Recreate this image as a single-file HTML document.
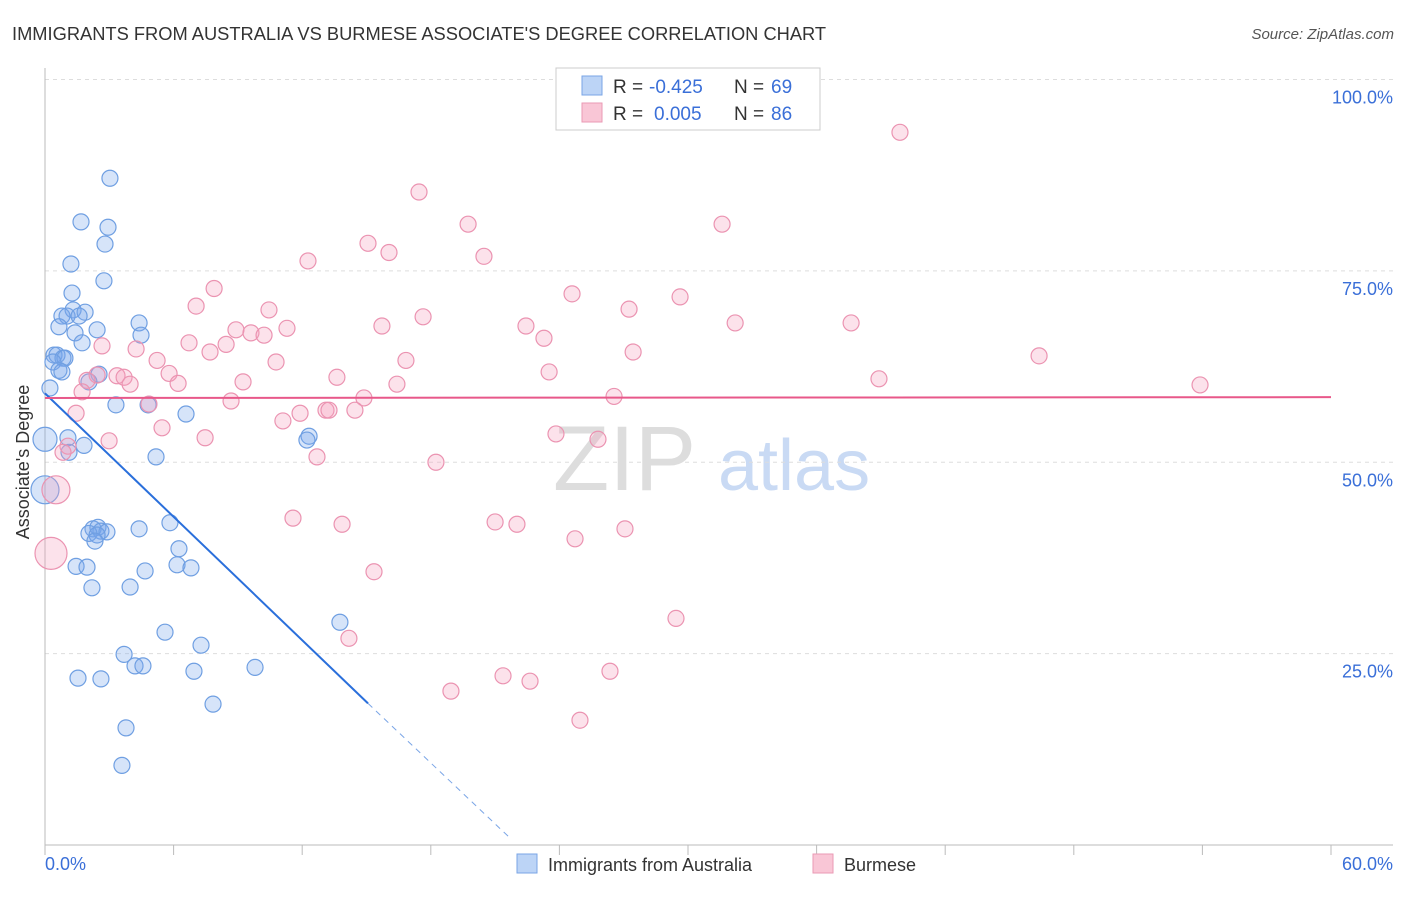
<!DOCTYPE html>
<html><head><meta charset="utf-8"><style>
body{margin:0;background:#fff;font-family:"Liberation Sans",sans-serif;}
svg text{font-family:"Liberation Sans",sans-serif;}
</style></head><body>
<svg width="1406" height="892" xmlns="http://www.w3.org/2000/svg">
<text x="12" y="40" font-size="18.3" fill="#333">IMMIGRANTS FROM AUSTRALIA VS BURMESE ASSOCIATE'S DEGREE CORRELATION CHART</text>
<text x="1394" y="39" font-size="15" fill="#555" font-style="italic" text-anchor="end">Source: ZipAtlas.com</text>
<g>
<text x="553" y="490" font-size="92" fill="#ddd" font-family="Liberation Serif">ZIP</text>
<text x="718" y="490" font-size="72" fill="#c9daf4">atlas</text>
</g>
<g id="grid"></g>
<g id="axes"></g>
<g id="marks"></g>
<g id="trends"></g>
<text x="22" y="455" font-size="18" fill="#333" text-anchor="middle" transform="rotate(-90 29 455)">Associate's Degree</text>
<g>
<rect x="556" y="68" width="264" height="62" fill="#fff" stroke="#ccc"/>
<rect x="582" y="76" width="20" height="19" fill="#bcd4f6" stroke="#7aa5e6"/>
<rect x="582" y="103" width="20" height="19" fill="#f9c6d6" stroke="#ea9ab4"/>
<text x="613" y="93" font-size="19" fill="#333">R =</text>
<text x="649" y="93" font-size="19" fill="#3a6fd8">-0.425</text>
<text x="734" y="93" font-size="19" fill="#333">N =</text>
<text x="771" y="93" font-size="19" fill="#3a6fd8">69</text>
<text x="613" y="120" font-size="19" fill="#333">R =</text>
<text x="654" y="120" font-size="19" fill="#3a6fd8">0.005</text>
<text x="734" y="120" font-size="19" fill="#333">N =</text>
<text x="771" y="120" font-size="19" fill="#3a6fd8">86</text>
</g>
<g>
<rect x="517" y="854" width="20" height="19" fill="#bcd4f6" stroke="#7aa5e6"/>
<text x="548" y="871" font-size="18" fill="#333">Immigrants from Australia</text>
<rect x="813" y="854" width="20" height="19" fill="#f9c6d6" stroke="#ea9ab4"/>
<text x="844" y="871" font-size="18" fill="#333">Burmese</text>
</g>
</svg>
<script>
const blueX=[3.03,1.68,2.94,2.80,1.21,2.75,1.26,1.31,1.87,0.79,1.03,1.59,0.65,2.43,1.40,4.39,4.48,1.73,0.42,0.56,0.84,0.93,0.37,0.65,0.79,2.52,2.05,0.23,3.31,4.81,6.58,0.0,1.07,1.82,1.12,12.32,12.22,5.18,0.0,4.39,5.83,2.24,2.47,2.61,2.05,2.89,2.43,2.33,6.25,1.45,1.96,4.67,6.16,6.81,2.19,3.97,13.76,5.60,7.28,3.69,4.20,4.57,6.95,9.80,1.54,2.61,7.84,3.78,3.59];
const blueY=[87.1,81.4,80.7,78.5,75.9,73.7,72.1,69.9,69.6,69.1,69.1,69.1,67.7,67.3,66.9,68.2,66.6,65.6,64.0,64.0,63.6,63.6,63.1,62.0,61.8,61.5,60.5,59.7,57.5,57.5,56.3,53.0,53.2,52.2,51.3,53.4,52.9,50.7,46.4,41.3,42.1,41.3,41.5,41.0,40.7,40.9,40.5,39.7,38.7,36.4,36.3,35.8,36.6,36.2,33.6,33.7,29.1,27.8,26.1,24.9,23.4,23.4,22.7,23.2,21.8,21.7,18.4,15.3,10.4];
const blueR=[8,8,8,8,8,8,8,8,8,8,8,8,8,8,8,8,8,8,8,8,8,8,8,8,8,8,8,8,8,8,8,12,8,8,8,8,8,8,14,8,8,8,8,8,8,8,8,8,8,8,8,8,8,8,8,8,8,8,8,8,8,8,8,8,8,8,8,8,8];
const pinkX=[39.89,17.45,19.74,31.59,15.07,16.05,20.48,12.27,7.89,24.59,29.63,7.05,10.45,27.25,17.64,11.29,32.20,37.61,15.72,22.44,8.91,9.61,10.22,23.28,6.72,8.45,2.66,4.25,7.70,27.44,46.38,16.84,5.23,10.78,5.79,2.43,3.36,3.69,3.97,9.24,13.62,6.21,1.96,23.52,38.91,53.89,16.42,1.73,26.55,4.85,8.68,14.88,1.45,11.90,13.11,13.25,14.46,11.10,5.46,23.84,25.80,2.99,7.47,1.07,0.84,12.69,18.24,0.51,11.57,21.00,22.02,13.86,24.73,27.06,15.35,0.28,29.44,14.18,21.37,22.63,18.94,26.36,24.96];
const pinkY=[93.1,85.3,81.1,81.1,78.6,77.4,76.9,76.3,72.7,72.0,71.6,70.4,69.9,70.0,69.0,67.5,68.2,68.2,67.8,67.8,67.3,66.9,66.6,66.2,65.6,65.4,65.2,64.8,64.4,64.4,63.9,63.3,63.3,63.1,61.6,61.4,61.3,61.1,60.2,60.5,61.1,60.3,60.7,61.8,60.9,60.1,60.2,59.2,58.6,57.6,58.0,58.4,56.4,56.4,56.8,56.8,56.8,55.4,54.5,53.7,53.0,52.8,53.2,52.1,51.3,50.7,50.0,46.4,42.7,42.2,41.9,41.9,40.0,41.3,35.7,38.1,29.6,27.0,22.1,21.4,20.1,22.7,16.3];
const yTicks=[100,75,50,25];
const yTickLabels=["100.0%","75.0%","50.0%","25.0%"];
const xTicks=[0,6,12,18,24,30,36,42,48,54,60];
const xEndLabels=["0.0%","60.0%"];
const blueTrendEnds=[[0,59.0],[15.07,18.5],[21.7,0.9]];
const pinkTrendEnds=[[0,58.4],[60,58.5]];

const NS="http://www.w3.org/2000/svg";
const X0=45,X1=1331,Y0=845,Y100=79.5;
const sx=v=>X0+(v/60)*(X1-X0);
const sy=v=>Y0-(v/100)*(Y0-Y100);
function mk(tag,attrs,parent){const e=document.createElementNS(NS,tag);for(const k in attrs)e.setAttribute(k,attrs[k]);parent.appendChild(e);return e;}
const grid=document.getElementById('grid'),axes=document.getElementById('axes'),marks=document.getElementById('marks'),trends=document.getElementById('trends');
yTicks.forEach((t,i)=>{
 const l=mk('line',{x1:X0,x2:1393,y1:sy(t),y2:sy(t),stroke:'#ddd','stroke-dasharray':'4,4'},grid);
 
 
 const tx=mk('text',{x:1393,y:sy(t)+24,'font-size':18,fill:'#3a6fd8','text-anchor':'end'},axes);
 tx.textContent=yTickLabels[i];
 
 
});
const ya=mk('line',{x1:X0,x2:X0,y1:68,y2:Y0,stroke:'#bbb'},axes);


const xa=mk('line',{x1:X0,x2:1393,y1:Y0,y2:Y0,stroke:'#bbb'},axes);


xTicks.forEach(t=>{
 const l=mk('line',{x1:sx(t),x2:sx(t),y1:Y0,y2:Y0+10,stroke:'#bbb'},axes);
 
 
});
const xl0=mk('text',{x:45,y:870,'font-size':18,fill:'#3a6fd8'},axes);xl0.textContent=xEndLabels[0];


const xl1=mk('text',{x:1393,y:870,'font-size':18,fill:'#3a6fd8','text-anchor':'end'},axes);xl1.textContent=xEndLabels[1];


blueX.forEach((v,i)=>{
 const c=mk('circle',{cx:sx(v),cy:sy(blueY[i]),r:blueR[i],fill:'rgba(120,165,235,0.3)',stroke:'#6f9fe2','stroke-width':1.2},marks);
 
 
});
pinkX.forEach((v,i)=>{
 const big=(i===67)?14:(i===75?16:8);
 const c=mk('circle',{cx:sx(v),cy:sy(pinkY[i]),r:big,fill:'rgba(245,160,190,0.3)',stroke:'#eb93b1','stroke-width':1.2},marks);
 
 
});
const b=blueTrendEnds;
const bl=mk('line',{x1:sx(b[0][0]),y1:sy(b[0][1]),x2:sx(b[1][0]),y2:sy(b[1][1]),stroke:'#2a6fdb','stroke-width':2},trends);


const bd=mk('line',{x1:sx(b[1][0]),y1:sy(b[1][1]),x2:sx(b[2][0]),y2:sy(b[2][1]),stroke:'#7aa5e6','stroke-width':1,'stroke-dasharray':'6,5'},trends);


const p=pinkTrendEnds;
const pl=mk('line',{x1:sx(p[0][0]),y1:sy(p[0][1]),x2:sx(p[1][0]),y2:sy(p[1][1]),stroke:'#e8588a','stroke-width':2},trends);


</script>
</body></html>
